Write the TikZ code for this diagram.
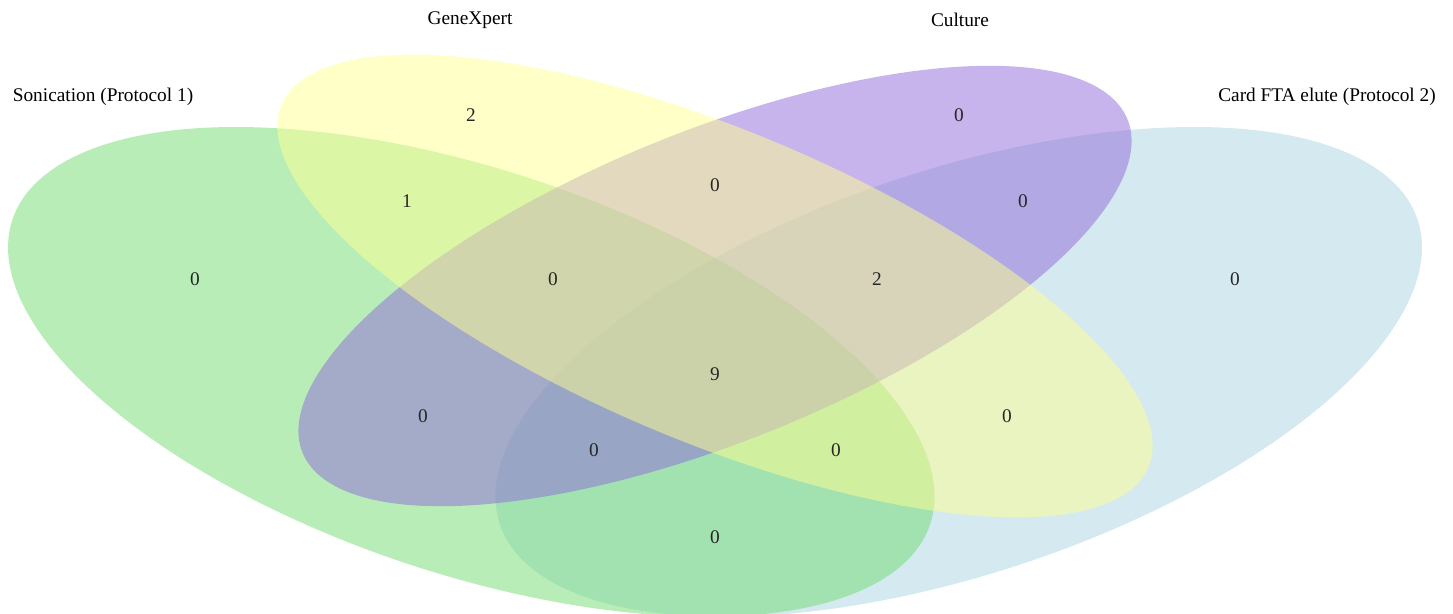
\documentclass[tikz,border=0pt]{standalone}
\usepackage{fontspec}
\setmainfont{Liberation Serif}
\definecolor{sonicgreen}{RGB}{113,219,113}
\definecolor{xpertyellow}{RGB}{255,255,145}
\definecolor{culturepurple}{RGB}{145,105,217}
\definecolor{ftablue}{RGB}{169,213,225}
\begin{document}
\begin{tikzpicture}[x=0.02cm,y=-0.02cm,
	setfill/.style={fill opacity=0.5,draw=none},
	count/.style={font=\fontsize{11}{13}\selectfont,text=black!85},
	catlabel/.style={font=\fontsize{11}{13}\selectfont}]
	\useasboundingbox (0,0) rectangle (1453,613);
	\begin{scope}[shift={(715,286)},xscale=1625,yscale=-859]
		\fill[setfill,ftablue,shift={(0.15,-0.10)},rotate=-45] (0,0) ellipse[x radius=0.35,y radius=0.20];
		\fill[setfill,sonicgreen,shift={(-0.15,-0.10)},rotate=45] (0,0) ellipse[x radius=0.35,y radius=0.20];
		\fill[setfill,culturepurple,rotate=-45] (0,0) ellipse[x radius=0.33,y radius=0.15];
		\fill[setfill,xpertyellow,rotate=45] (0,0) ellipse[x radius=0.35,y radius=0.15];
	\end{scope}
	% set names
	\node[catlabel] (sonication) at (103,97) {Sonication (Protocol 1)};
	\node[catlabel] (genexpert) at (470,20) {GeneXpert};
	\node[catlabel] (culture) at (960,20) {Culture};
	\node[catlabel] (cardfta) at (1327,97) {Card FTA elute (Protocol 2)};
	% counts
	\node[count] (s) at (195,279) {0};
	\node[count] (g) at (471,115) {2};
	\node[count] (c) at (959,115) {0};
	\node[count] (f) at (1235,279) {0};
	\node[count] (sg) at (407,201) {1};
	\node[count] (gc) at (715,185) {0};
	\node[count] (cf) at (1023,201) {0};
	\node[count] (sgc) at (553,279) {0};
	\node[count] (gcf) at (877,279) {2};
	\node[count] (sgcf) at (715,374) {9};
	\node[count] (sc) at (423,416) {0};
	\node[count] (gf) at (1007,416) {0};
	\node[count] (scf) at (594,450) {0};
	\node[count] (sgf) at (836,450) {0};
	\node[count] (sf) at (715,537) {0};
\end{tikzpicture}
\end{document}
